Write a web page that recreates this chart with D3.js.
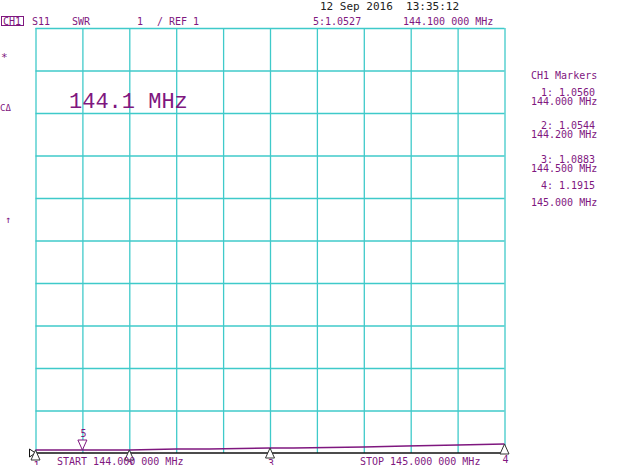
<!DOCTYPE html>
<html>
<head>
<meta charset="utf-8">
<script src="https://cdn.jsdelivr.net/npm/d3@7"></script>
<style>
  body { margin: 0; background: #fff; }
  svg { display: block; }
  .mono { font-family: "DejaVu Sans Mono", monospace; font-size: 10px; white-space: pre; }
</style>
</head>
<body>
<div id="chart"></div>
<script>
// sweep 144.000 - 145.000 MHz, SWR 1/div, ref 1 at bottom
var traceFreqs = [144.0, 144.1, 144.2, 144.3, 144.37, 144.5, 144.55, 144.7, 144.79, 144.9, 145.0];
var traceSwr   = [1.0560, 1.0527, 1.0544, 1.062, 1.070, 1.0883, 1.095, 1.125, 1.145, 1.168, 1.1915];

var markerNames  = ["1", "2", "3", "4", "5"];
var markerFreqs  = [144.0, 144.2, 144.5, 145.0, 144.1];
var markerValues = [1.0560, 1.0544, 1.0883, 1.1915, 1.0527];
var markerFreqLabels = ["144.000 MHz", "144.200 MHz", "144.500 MHz", "145.000 MHz", "144.100 000 MHz"];

var xDomain = [144.0, 145.0];
var yDomain = [1, 11];
var divisions = 10;

var width = 640, height = 465;
var gLeft = 35.5, gRight = 504.5, gTop = 28, gBottom = 453;

var purple = '#7f177f';
var cyan = '#3fcaca';

var svg = d3.select('#chart').append('svg:svg')
  .attr('width', width)
  .attr('height', height);

var x = d3.scaleLinear().domain(xDomain).range([gLeft, gRight]);
var y = d3.scaleLinear().domain(yDomain).range([gBottom, gTop]);

// graticule
var xt = d3.range(divisions + 1).map(function(i){ return xDomain[0] + i * (xDomain[1] - xDomain[0]) / divisions; });
var yt = d3.range(divisions + 1).map(function(i){ return yDomain[0] + i * (yDomain[1] - yDomain[0]) / divisions; });

svg.append('g')
  .attr('transform', 'translate(0,' + gTop + ')')
  .call(d3.axisBottom(x).tickValues(xt).tickSize(gBottom - gTop).tickFormat(''))
  .call(function(g){
    g.select('.domain').remove();
    g.selectAll('.tick line').attr('stroke', cyan).attr('stroke-width', 1.3);
  });

svg.append('g')
  .attr('transform', 'translate(' + gLeft + ',0)')
  .call(d3.axisRight(y).tickValues(yt.slice(1)).tickSize(gRight - gLeft).tickFormat(''))
  .call(function(g){
    g.select('.domain').remove();
    g.selectAll('.tick line').attr('stroke', cyan).attr('stroke-width', 1.3);
  });

// reference line
svg.append('line')
  .attr('x1', gLeft - 3).attr('x2', gRight)
  .attr('y1', y(yDomain[0])).attr('y2', y(yDomain[0]))
  .attr('stroke', '#111').attr('stroke-width', 1.3);

svg.append('path')
  .attr('d', 'M' + (gLeft - 6) + ',' + (gBottom - 4) + 'L' + gLeft + ',' + gBottom + 'L' + (gLeft - 6) + ',' + (gBottom + 4) + 'Z')
  .attr('fill', '#fff').attr('stroke', '#111').attr('stroke-width', 1);

// trace
var line = d3.line()
  .x(function(d, i){ return x(traceFreqs[i]); })
  .y(function(d){ return Math.round(y(d)) - 1; });

svg.append('path')
  .datum(traceSwr)
  .attr('d', line)
  .attr('fill', 'none')
  .attr('stroke', purple)
  .attr('stroke-width', 1.3);

// markers
markerNames.forEach(function(name, i){
  var mx = x(markerFreqs[i]), my = Math.round(y(markerValues[i])) - 1;
  var active = name === '5';
  var dir = active ? -1 : 1;
  svg.append('path')
    .attr('d', 'M' + mx + ',' + my + 'L' + (mx - 4.5) + ',' + (my + dir * 10) + 'L' + (mx + 4.5) + ',' + (my + dir * 10) + 'Z')
    .attr('fill', '#fff')
    .attr('stroke', active ? purple : '#333')
    .attr('stroke-width', 1);
  svg.append('text')
    .attr('class', 'mono')
    .attr('x', mx + 1).attr('y', active ? my - 13 : my + 19)
    .attr('text-anchor', 'middle')
    .attr('fill', purple)
    .text(name);
});

function label(tx, ty, str, opts){
  opts = opts || {};
  return svg.append('text')
    .attr('class', 'mono')
    .attr('x', tx).attr('y', ty)
    .attr('fill', opts.fill || purple)
    .style('font-size', (opts.size || 10) + 'px')
    .attr('text-anchor', opts.anchor || 'start')
    .text(str);
}

// header
label(320, 10, '12 Sep 2016  13:35:12', {fill: '#222', size: 11});
svg.append('rect').attr('x', 1.5).attr('y', 16.5).attr('width', 22).attr('height', 9)
  .attr('fill', 'none').attr('stroke', purple).attr('stroke-width', 1);
label(3, 25, 'CH1');
label(32, 25, 'S11');
label(72, 25, 'SWR');
label(137, 25, '1');
label(157, 25, '/ REF 1');
label(313, 25, '5:' + markerValues[4].toFixed(4));
label(403, 25, markerFreqLabels[4]);

// left annotations
label(1, 61, '*', {size: 11});
label(0, 111, 'C\u0394', {size: 9});
label(5, 223, '\u2191', {size: 10});

svg.append('text')
  .attr('x', 69).attr('y', 108)
  .attr('fill', purple)
  .style('font-family', '"Liberation Mono", monospace')
  .style('font-size', '22px')
  .text('144.1 MHz');

// marker table
label(531, 79, 'CH1 Markers');
var rows = [[96, 105], [129, 138], [163, 172], [189, 206]];
for (var i = 0; i < 4; i++){
  label(568, rows[i][0], markerNames[i] + ': ' + markerValues[i].toFixed(4), {anchor: 'middle'});
  label(531, rows[i][1], markerFreqLabels[i]);
}

// sweep limits
label(57, 465, 'START 144.000 000 MHz');
label(360, 465, 'STOP 145.000 000 MHz');
</script>
</body>
</html>
